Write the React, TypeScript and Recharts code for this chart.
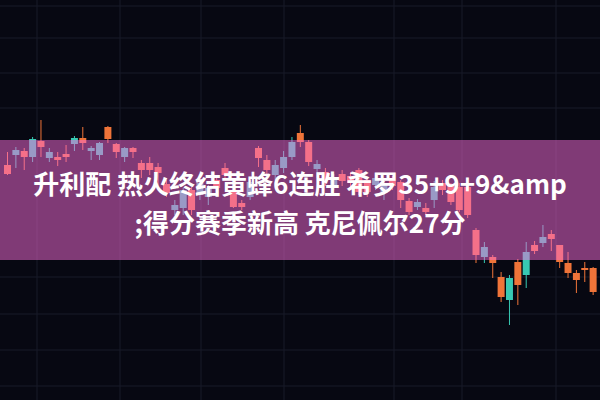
import React from "react";
import { ComposedChart, Bar, XAxis, YAxis, CartesianGrid, Cell } from "recharts";

// price readings, one per session (left to right)
const sessions = Array.from({ length: 71 }, (_, i) => `D${i + 1}`);

const opens = [
  235, 245, 249, 243, 259, 242, 243, 246, 256, 262, 249, 245, 273, 256, 243, 252, 237, 237,
  233, 216, 190, 192, 210, 205, 203, 220, 232, 210, 197, 203, 252, 240, 225, 232, 243, 267,
  258, 231, 228, 214, 226, 224, 230, 220, 215, 207, 220, 218, 199, 193, 192, 200, 217, 215,
  213, 213, 170, 143, 143, 123, 100, 138, 125, 155, 157, 166, 155, 137, 127, 132, 132
];
const closes = [
  226, 250, 243, 261, 253, 248, 240, 243, 262, 257, 252, 257, 261, 248, 252, 248, 230, 230,
  227, 207, 195, 210, 190, 217, 212, 212, 225, 193, 193, 218, 242, 230, 235, 243, 258, 258,
  238, 236, 220, 222, 219, 217, 208, 208, 222, 215, 214, 200, 188, 198, 188, 213, 210, 198,
  190, 185, 145, 153, 137, 103, 122, 115, 148, 149, 163, 161, 138, 127, 120, 130, 108
];
const highs = [
  248, 253, 252, 263, 280, 252, 248, 255, 264, 273, 254, 258, 274, 257, 253, 253, 240, 243,
  237, 220, 200, 212, 213, 220, 215, 224, 237, 213, 200, 220, 254, 245, 240, 249, 263, 275,
  260, 240, 232, 226, 230, 228, 232, 223, 225, 220, 224, 220, 202, 201, 197, 219, 220, 217,
  217, 215, 172, 158, 145, 128, 125, 141, 158, 159, 175, 170, 155, 148, 130, 138, 133
];
const lows = [
  225, 232, 230, 238, 243, 238, 234, 238, 249, 250, 240, 240, 257, 242, 238, 242, 222, 225,
  213, 203, 185, 185, 185, 200, 195, 205, 220, 192, 190, 200, 233, 225, 220, 227, 240, 253,
  234, 222, 214, 210, 214, 213, 205, 203, 210, 200, 210, 192, 185, 190, 185, 192, 205, 195,
  188, 182, 137, 137, 122, 98, 75, 95, 112, 146, 153, 149, 132, 122, 107, 118, 105
];

const UP = "#38c9b3";
const DOWN = "#ef7439";

const gridX = [37, 120, 201, 284, 394, 462, 556];
const gridY = [6, 38, 73, 108, 277, 314, 350, 386];

const data = sessions.map((t, i) => ({
  t,
  wick: [lows[i], highs[i]],
  body: [Math.min(opens[i], closes[i]), Math.max(opens[i], closes[i])],
  up: closes[i] > opens[i],
}));

const titleLines = ["升利配 热火终结黄蜂6连胜 希罗35+9+9&amp", ";得分赛季新高 克尼佩尔27分"];

export default function App() {
  return (
    <div style={{ position: "absolute", left: 0, top: 0, width: 600, height: 400, background: "#070812", overflow: "hidden" }}>
      <ComposedChart width={600} height={400} data={data} margin={{ top: 0, right: 0, bottom: 0, left: 0 }}>
        <CartesianGrid stroke="#181b29" horizontalPoints={gridY} verticalPoints={gridX} />
        <XAxis xAxisId="wick" dataKey="t" hide padding={{ left: 3, right: 3 }} />
        <XAxis xAxisId="body" dataKey="t" hide padding={{ left: 3, right: 3 }} />
        <YAxis hide domain={[0, 400]} />
        <Bar xAxisId="wick" dataKey="wick" barSize={1} isAnimationActive={false}>
          {data.map((d, i) => (
            <Cell key={i} fill={d.up ? UP : DOWN} />
          ))}
        </Bar>
        <Bar xAxisId="body" dataKey="body" barSize={7} isAnimationActive={false}>
          {data.map((d, i) => (
            <Cell key={i} fill={d.up ? UP : DOWN} />
          ))}
        </Bar>
      </ComposedChart>
      <div
        style={{
          position: "absolute",
          left: 0,
          top: 140,
          width: 600,
          height: 120,
          background: "rgba(249, 108, 218, 0.5)",
        }}
      />
      <div
        style={{
          position: "absolute",
          left: 0,
          top: 163,
          width: 600,
          textAlign: "center",
          color: "#ffffff",
          fontFamily: "'Noto Sans CJK SC', 'Noto Sans', sans-serif",
          fontWeight: 700,
          fontSize: 26,
          lineHeight: "39px",
          whiteSpace: "nowrap",
        }}
      >
        {titleLines.map((l, i) => (
          <div key={i}>{l}</div>
        ))}
      </div>
    </div>
  );
}
